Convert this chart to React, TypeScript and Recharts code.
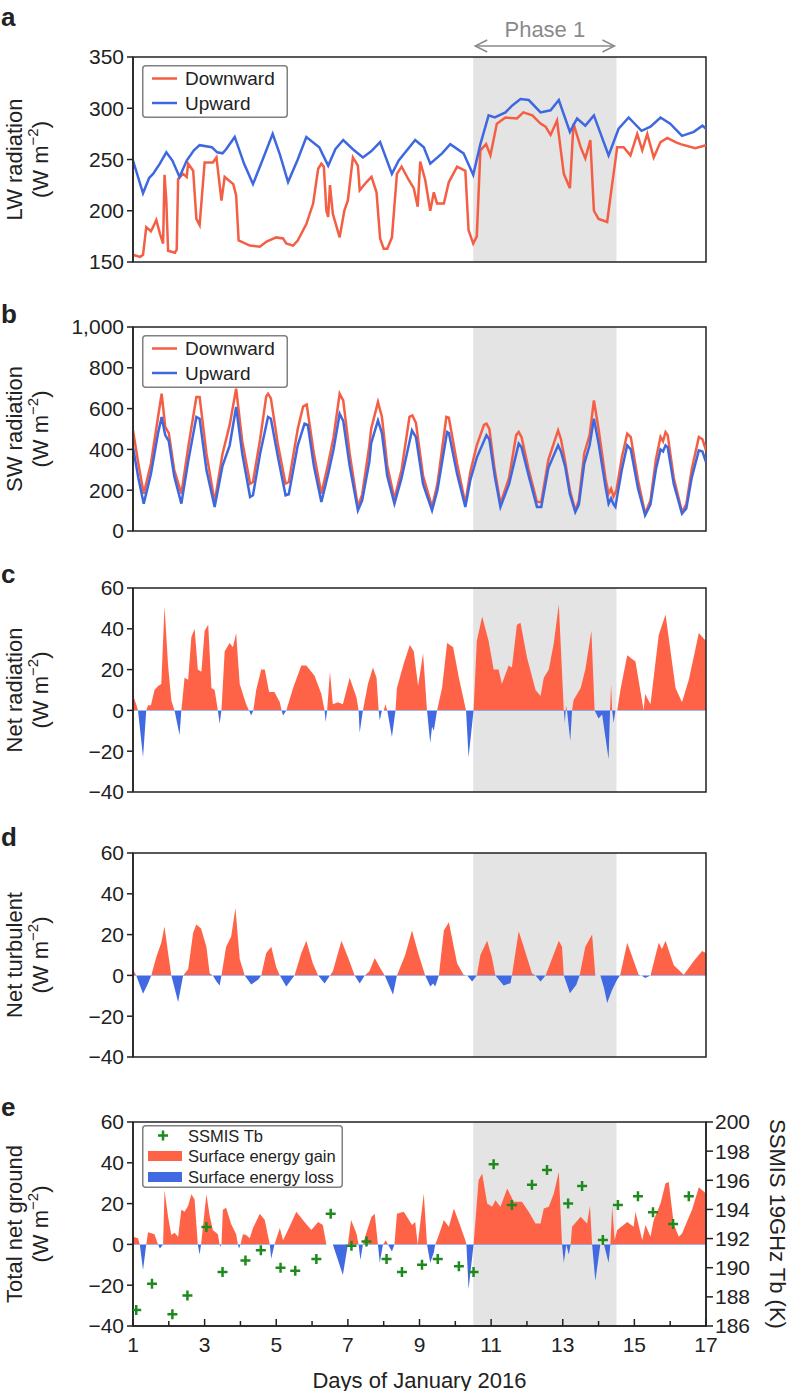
import React from 'react';
import { ComposedChart, Line, Area, Scatter, XAxis, YAxis, ReferenceArea, Legend } from 'recharts';

const FONT = "'Liberation Sans', Arial, Helvetica, sans-serif";
const RED_LINE = '#F45E44';
const BLUE_LINE = '#3E68DF';
const RED_FILL = '#FF6347';
const BLUE_FILL = '#4169E1';
const SHADE = '#E4E4E4';
const GREEN = '#1E8A1E';
const INK = '#222';

const days = [1, 2, 3, 4, 5, 6, 7, 8, 9, 10, 11, 12, 13, 14, 15, 16, 17];
const phase1: [number, number] = [10.5, 14.5];

// a: LW radiation
const lwDown: [number, number][] = [
  [1, 157], [1.2, 155], [1.28, 157], [1.37, 184], [1.5, 180], [1.56, 184], [1.65, 191], [1.75, 178], [1.84, 168],
  [1.88, 235], [1.93, 210], [1.98, 161], [2.17, 159], [2.22, 162], [2.26, 231], [2.4, 236], [2.5, 233], [2.54, 246],
  [2.68, 239], [2.77, 192], [2.86, 186], [3.0, 247], [3.23, 247], [3.33, 252], [3.47, 210], [3.56, 233], [3.8, 226],
  [3.88, 215], [3.95, 171], [4.26, 166], [4.54, 165], [4.73, 170], [5.0, 174], [5.19, 173], [5.28, 168], [5.47, 166],
  [5.6, 171], [5.84, 187], [6.03, 207], [6.17, 241], [6.26, 246], [6.33, 243], [6.4, 200], [6.45, 194], [6.5, 225],
  [6.58, 197], [6.77, 174], [6.9, 200], [7.0, 210], [7.14, 252], [7.28, 244], [7.33, 220], [7.52, 228], [7.66, 233],
  [7.8, 218], [7.9, 173], [8.0, 163], [8.1, 163], [8.23, 174], [8.37, 236], [8.5, 243], [8.7, 230], [8.84, 222],
  [8.95, 204], [9.02, 248], [9.16, 230], [9.3, 200], [9.4, 218], [9.49, 207], [9.68, 207], [9.82, 228], [10.05, 243],
  [10.28, 239], [10.37, 181], [10.5, 168], [10.6, 175], [10.7, 259], [10.86, 265], [10.98, 254], [11.16, 285],
  [11.4, 291], [11.72, 290], [11.9, 296], [12.15, 293], [12.38, 285], [12.52, 282], [12.66, 274], [12.84, 288],
  [13.03, 236], [13.2, 222], [13.3, 285], [13.5, 262], [13.63, 251], [13.77, 269], [13.87, 200], [14.0, 192],
  [14.24, 189], [14.33, 213], [14.52, 262], [14.7, 262], [14.89, 254], [15.08, 275], [15.22, 259], [15.36, 275],
  [15.54, 252], [15.73, 267], [15.92, 271], [16.15, 267], [16.29, 265], [16.7, 261], [17, 264],
];
const lwUp: [number, number][] = [
  [1, 249], [1.28, 217], [1.45, 232], [1.56, 236], [1.75, 246], [1.93, 257], [2.1, 249], [2.3, 233], [2.5, 249],
  [2.7, 259], [2.86, 264], [3.2, 262], [3.35, 257], [3.5, 256], [3.6, 260], [3.84, 272], [4.1, 246], [4.35, 226],
  [4.6, 248], [4.9, 275], [5.1, 255], [5.33, 228], [5.6, 250], [5.84, 272], [6.2, 262], [6.45, 244], [6.65, 260],
  [6.87, 269], [7.14, 260], [7.42, 252], [7.65, 258], [7.9, 267], [8.23, 236], [8.42, 249], [8.88, 269], [9.12, 262],
  [9.3, 246], [9.63, 256], [9.86, 265], [10.23, 256], [10.5, 235], [10.7, 265], [10.93, 293], [11.1, 291], [11.4, 296],
  [11.6, 303], [11.82, 309], [12.05, 308], [12.38, 296], [12.66, 298], [12.89, 308], [13.2, 277], [13.4, 290],
  [13.63, 283], [13.87, 293], [14.28, 254], [14.56, 280], [14.84, 291], [15.2, 278], [15.45, 282], [15.73, 291],
  [16, 285], [16.33, 273], [16.66, 277], [16.9, 283], [17, 280],
];

// b: SW radiation
const swDown: [number, number][] = [
  [1, 493], [1.15, 330], [1.3, 183], [1.5, 330], [1.7, 560], [1.8, 673], [1.9, 510], [2.0, 480], [2.15, 300],
  [2.35, 183], [2.55, 420], [2.77, 657], [2.86, 657], [3.05, 380], [3.28, 142], [3.5, 379], [3.7, 520], [3.88, 698],
  [4.05, 440], [4.27, 232], [4.35, 240], [4.55, 450], [4.72, 660], [4.77, 673], [4.85, 650], [5.05, 420], [5.26, 232],
  [5.35, 240], [5.6, 500], [5.75, 610], [5.85, 620], [6.05, 380], [6.26, 183], [6.45, 330], [6.6, 460], [6.77, 673],
  [6.87, 640], [7.05, 380], [7.28, 118], [7.4, 180], [7.6, 420], [7.65, 500], [7.84, 632], [7.95, 560], [8.1, 320],
  [8.3, 158], [8.5, 300], [8.72, 560], [8.8, 567], [8.9, 530], [9.1, 270], [9.35, 118], [9.5, 230], [9.75, 559],
  [9.82, 555], [10.05, 330], [10.28, 134], [10.42, 290], [10.6, 420], [10.8, 520], [10.87, 526], [10.95, 500],
  [11.1, 300], [11.26, 134], [11.5, 260], [11.7, 470], [11.77, 485], [11.85, 460], [12.05, 300], [12.28, 142],
  [12.4, 142], [12.6, 350], [12.87, 493], [12.95, 450], [13.07, 338], [13.2, 200], [13.35, 101], [13.45, 150],
  [13.6, 380], [13.75, 470], [13.87, 640], [14.0, 500], [14.2, 250], [14.28, 183], [14.35, 207], [14.42, 170],
  [14.5, 200], [14.65, 360], [14.8, 477], [14.9, 460], [15.1, 250], [15.3, 85], [15.45, 150], [15.6, 350],
  [15.73, 461], [15.8, 440], [15.87, 485], [15.93, 470], [16.1, 260], [16.33, 93], [16.45, 130], [16.6, 300],
  [16.8, 461], [16.9, 450], [17, 395],
];
const swUp: [number, number][] = [
  [1, 410], [1.15, 260], [1.3, 134], [1.5, 280], [1.7, 480], [1.8, 559], [1.9, 470], [2.0, 440], [2.15, 270],
  [2.35, 134], [2.55, 350], [2.77, 559], [2.86, 550], [3.05, 300], [3.28, 118], [3.5, 320], [3.7, 420], [3.88, 608],
  [4.05, 380], [4.27, 167], [4.35, 175], [4.55, 380], [4.77, 559], [4.85, 550], [5.05, 360], [5.26, 175], [5.35, 180],
  [5.6, 420], [5.79, 526], [5.88, 520], [6.05, 320], [6.26, 142], [6.45, 280], [6.6, 400], [6.77, 575], [6.87, 540],
  [7.05, 320], [7.28, 101], [7.4, 150], [7.6, 340], [7.65, 430], [7.84, 542], [7.95, 480], [8.1, 270], [8.3, 134],
  [8.5, 260], [8.79, 493], [8.9, 460], [9.1, 230], [9.35, 101], [9.5, 200], [9.77, 485], [9.82, 480], [10.05, 280],
  [10.28, 118], [10.42, 250], [10.6, 360], [10.87, 469], [10.95, 450], [11.1, 270], [11.26, 118], [11.5, 230],
  [11.77, 428], [11.85, 410], [12.05, 270], [12.28, 118], [12.4, 118], [12.6, 310], [12.87, 420], [12.95, 390],
  [13.07, 314], [13.2, 180], [13.35, 93], [13.45, 130], [13.6, 330], [13.75, 420], [13.87, 550], [14.0, 430],
  [14.2, 210], [14.28, 134], [14.35, 160], [14.42, 130], [14.47, 118], [14.5, 150], [14.65, 300], [14.8, 420],
  [14.9, 400], [15.1, 210], [15.3, 77], [15.45, 130], [15.6, 300], [15.73, 400], [15.8, 390], [15.87, 420],
  [15.93, 410], [16.1, 230], [16.33, 85], [16.45, 110], [16.6, 260], [16.8, 395], [16.9, 390], [17, 338],
];

// c: net radiation
const netRad: [number, number][] = [
  [1, 7.4], [1.09, 3], [1.14, 0], [1.28, -23], [1.37, 0], [1.42, 2.5], [1.5, 2.5], [1.6, 10], [1.7, 12], [1.79, 13],
  [1.88, 51], [1.98, 22], [2.07, 5], [2.16, 0], [2.3, -12], [2.35, 0], [2.44, 16], [2.54, 15], [2.63, 36], [2.72, 40],
  [2.81, 20], [2.91, 19], [3.0, 39], [3.1, 42], [3.19, 11], [3.28, 10], [3.37, 0], [3.42, -6.5], [3.47, 0], [3.56, 29],
  [3.7, 33], [3.79, 31], [3.88, 38], [3.98, 13], [4.16, 3], [4.24, 0], [4.3, -2.5], [4.36, 0], [4.44, 10], [4.58, 20],
  [4.68, 20], [4.8, 9], [4.95, 9], [5.1, 4], [5.15, 0], [5.19, -2.5], [5.28, 0], [5.47, 11], [5.7, 22], [5.84, 22],
  [6.07, 17], [6.26, 8], [6.35, 0], [6.38, -5.7], [6.42, 0], [6.5, 19], [6.58, 3], [6.72, 4], [6.86, 3], [7.05, 16],
  [7.24, 6.5], [7.3, 0], [7.33, -11], [7.42, 0], [7.56, 13], [7.7, 21], [7.8, 16], [7.86, 0], [7.89, -5], [7.95, 0],
  [8.0, 0], [8.05, 3], [8.1, 0], [8.23, -13], [8.33, 0], [8.37, 11], [8.56, 23], [8.73, 32], [8.84, 29], [8.96, 12],
  [9.1, 28], [9.21, 0], [9.3, -16], [9.35, -8], [9.4, -10], [9.49, 0], [9.63, 11], [9.77, 33], [9.94, 31], [10.1, 16],
  [10.28, 1.6], [10.3, 0], [10.37, -23], [10.51, 0], [10.6, 34], [10.75, 46], [10.93, 34], [11.07, 20], [11.21, 20],
  [11.3, 13], [11.49, 22], [11.58, 21], [11.72, 42], [11.82, 43], [12.0, 26], [12.24, 10], [12.38, 7], [12.47, 16],
  [12.61, 20], [12.75, 33], [12.89, 52], [13.03, 0], [13.06, -6], [13.09, 2.5], [13.12, 0], [13.21, -15], [13.26, 0],
  [13.3, 5], [13.5, 11], [13.63, 20], [13.8, 39], [13.89, 0], [14.0, -4], [14.1, -2], [14.28, -24], [14.32, 0],
  [14.35, 13], [14.38, 0], [14.42, -6], [14.47, 0], [14.52, 0], [14.61, 10], [14.8, 27], [15.03, 24], [15.26, 0],
  [15.3, 8], [15.45, 3], [15.68, 37], [15.87, 47], [16.15, 11], [16.33, 4], [16.52, 15], [16.8, 38], [17, 34],
];

// d: net turbulent
const netTurb: [number, number][] = [
  [1, 3], [1.09, 0], [1.28, -9], [1.42, -4], [1.51, 0], [1.65, 9], [1.79, 16], [1.88, 24], [1.98, 11], [2.07, 0],
  [2.26, -13], [2.4, 0], [2.54, 3], [2.68, 21], [2.77, 25], [2.9, 23], [3.05, 14], [3.14, 1], [3.23, 0], [3.33, -3],
  [3.42, -5], [3.47, 0], [3.6, 14], [3.74, 19], [3.86, 33], [3.98, 8], [4.12, 0], [4.3, -4.5], [4.5, -2], [4.58, 0],
  [4.72, 11], [4.86, 14], [5.0, 4], [5.1, 0], [5.28, -5.4], [5.51, 0], [5.7, 11], [5.84, 17], [6.02, 6], [6.17, 0],
  [6.35, -4], [6.5, 0], [6.58, 2], [6.82, 17], [7.0, 9], [7.19, 0], [7.33, -4], [7.47, 0], [7.6, 2], [7.75, 8.5],
  [7.89, 4], [8.03, 0], [8.26, -9.5], [8.37, 0], [8.6, 10], [8.79, 22], [8.98, 10], [9.16, 0], [9.3, -5.4],
  [9.38, -4], [9.44, -5.4], [9.54, 0], [9.68, 22], [9.82, 26], [10.05, 6], [10.23, 0.3], [10.33, 0], [10.47, -3],
  [10.6, 0], [10.7, 10], [10.75, 12], [10.89, 17], [11.02, 9], [11.12, 0], [11.35, -5], [11.54, -3.8], [11.58, 0],
  [11.77, 21.6], [11.91, 14], [12.14, 1], [12.24, 0], [12.38, -3], [12.52, 0], [12.89, 17], [12.98, 14], [13.03, 0],
  [13.2, -8.7], [13.38, -4.6], [13.47, 0], [13.63, 14], [13.82, 20], [13.91, 0], [14.05, 0], [14.15, -6],
  [14.24, -13.5], [14.38, -7], [14.52, -2], [14.6, 0], [14.8, 16], [15.12, 0.3], [15.2, 0], [15.3, -1.3], [15.45, 0],
  [15.68, 16], [15.77, 13], [15.87, 17], [16.1, 5], [16.38, 0.3], [16.66, 7], [16.89, 12], [17, 11],
];

// e: total net ground + SSMIS Tb
const netGround: [number, number][] = [
  [1, 3.7], [1.14, 3], [1.19, 0], [1.28, -12.6], [1.37, 0], [1.42, 6], [1.6, 5], [1.7, 0], [1.75, -2], [1.84, 0],
  [1.88, 26.6], [1.98, 13.5], [2.07, 4.6], [2.16, 5.7], [2.26, 3.8], [2.35, 17], [2.44, 16], [2.54, 19], [2.63, 24.6],
  [2.72, 22], [2.81, 0], [2.86, -5], [2.9, 0], [3.05, 24.6], [3.14, 14], [3.23, 7], [3.37, 5], [3.42, 0], [3.44, -1],
  [3.47, 0], [3.51, 17], [3.6, 18], [3.74, 10], [3.88, 5], [3.93, 0], [3.96, -2], [4.0, 0], [4.07, 5], [4.16, 4.6],
  [4.26, 3], [4.35, 8], [4.54, 15], [4.68, 12], [4.82, 0], [4.86, -7], [4.95, 0], [5.1, 8], [5.19, 2], [5.37, 8.6],
  [5.56, 16], [5.79, 11], [5.98, 7], [6.17, 11], [6.3, 9.5], [6.4, 0], [6.58, 0], [6.86, -15], [7.0, 0], [7.09, 12],
  [7.24, 5.4], [7.3, 0], [7.35, -7.7], [7.42, 0], [7.51, 5.4], [7.66, 13.5], [7.75, 15], [7.84, 0], [7.89, -9],
  [7.98, 0], [8.06, 2], [8.12, 0], [8.23, -3.5], [8.3, 0], [8.37, 15], [8.56, 16], [8.65, 13.5], [8.79, 9.5],
  [8.88, 11], [8.95, 0], [9.12, 25], [9.21, 0], [9.3, -9], [9.4, -4], [9.44, 0], [9.54, 4.6], [9.68, 12], [9.82, 8.6],
  [9.96, 17.6], [10.1, 11], [10.28, 2], [10.31, 0], [10.37, -22], [10.51, 0], [10.65, 31.5], [10.75, 34.8],
  [10.89, 20], [11.03, 18.4], [11.12, 21.7], [11.26, 18.4], [11.45, 27.4], [11.63, 20.9], [11.86, 20.9], [12.05, 16],
  [12.24, 10.3], [12.38, 10.3], [12.47, 17.6], [12.61, 18.4], [12.75, 25], [12.89, 35.6], [12.98, 0], [13.03, -9],
  [13.1, 0], [13.17, -5], [13.22, 0], [13.26, 8.6], [13.5, 13.5], [13.68, 10.3], [13.76, 19], [13.82, 0],
  [13.91, -18], [14.05, 0], [14.15, 0], [14.28, -9], [14.33, 0], [14.38, 18.4], [14.45, 2], [14.52, 7], [14.8, 11],
  [14.98, 8.6], [15.03, 16], [15.22, 2], [15.31, 9.5], [15.45, 3.8], [15.54, 12], [15.73, 20], [15.87, 30],
  [15.96, 30.6], [16.1, 10], [16.24, 3.8], [16.33, 5.4], [16.61, 17], [16.8, 28], [17, 25],
];
const ssmisTb: [number, number][] = [
  [1.09, 187.1], [1.53, 188.9], [2.1, 186.8], [2.52, 188.1], [3.05, 192.8], [3.5, 189.7], [4.14, 190.5],
  [4.57, 191.2], [5.12, 190.0], [5.53, 189.8], [6.12, 190.6], [6.52, 193.7], [7.1, 191.5], [7.52, 191.8],
  [8.08, 190.6], [8.51, 189.7], [9.07, 190.2], [9.51, 190.6], [10.1, 190.1], [10.51, 189.7], [11.07, 197.1],
  [11.58, 194.3], [12.14, 195.7], [12.56, 196.7], [13.15, 194.4], [13.54, 195.6], [14.12, 191.9], [14.54, 194.3],
  [15.1, 194.9], [15.52, 193.8], [16.08, 193.0], [16.52, 194.9],
];

const lwTicks = [150, 200, 250, 300, 350];
const swTicks = [0, 200, 400, 600, 800, 1000];
const fluxTicks = [-40, -20, 0, 20, 40, 60];
const tbTicks = [186, 188, 190, 192, 194, 196, 198, 200];

const pts = (a: [number, number][]) => a.map(([day, v]) => ({ day, v }));
const fmt = (v: number) => (v < 0 ? '\u2212' + Math.abs(v) : v.toLocaleString('en-US'));

const W = 788;
const PLOT_H = 204;
const TOP = 20; // room above each plot for the top tick label
const axisStyle = { stroke: INK, strokeWidth: 1.5 };
const tickStyle = { fontSize: 21, fill: INK, fontFamily: FONT };

function DayTick(props: any) {
  const { x, y, payload, showLabels } = props;
  const major = payload.value % 2 === 1;
  return (
    <g>
      <line x1={x} x2={x} y1={y} y2={y - (major ? 7 : 5)} stroke={INK} strokeWidth={1.5} />
      {showLabels && major && (
        <text x={x} y={y + 18} textAnchor="middle" dominantBaseline="central" fontSize={21} fill={INK} fontFamily={FONT}>
          {payload.value}
        </text>
      )}
    </g>
  );
}

function LeftTitle(props: any) {
  const { viewBox, title } = props;
  const cy = viewBox.y + viewBox.height / 2;
  return (
    <g fontFamily={FONT} fontSize={22} fill={INK}>
      <text transform={`translate(14, ${cy}) rotate(-90)`} textAnchor="middle" dominantBaseline="central">{title}</text>
      <text transform={`translate(40, ${cy}) rotate(-90)`} textAnchor="middle" dominantBaseline="central">
        (W m<tspan dy={-8} fontSize={15}>{'\u22122'}</tspan><tspan dy={8}>)</tspan>
      </text>
    </g>
  );
}

function PhaseLabel(props: any) {
  const { viewBox } = props;
  const x0 = viewBox.x + 2;
  const x1 = viewBox.x + viewBox.width - 2;
  const ay = viewBox.y - 11;
  return (
    <g>
      <text x={(x0 + x1) / 2} y={viewBox.y - 28} textAnchor="middle" dominantBaseline="central" fontSize={22} fill="#8A8A8A" fontFamily={FONT}>
        Phase 1
      </text>
      <line x1={x0} x2={x1} y1={ay} y2={ay} stroke="#8A8A8A" strokeWidth={1.5} />
      <polyline points={`${x0 + 12},${ay - 6} ${x0},${ay} ${x0 + 12},${ay + 6}`} fill="none" stroke="#8A8A8A" strokeWidth={1.5} />
      <polyline points={`${x1 - 12},${ay - 6} ${x1},${ay} ${x1 - 12},${ay + 6}`} fill="none" stroke="#8A8A8A" strokeWidth={1.5} />
    </g>
  );
}

function LineLegend() {
  return (
    <svg width={146} height={53} style={{ display: 'block' }}>
      <rect x={0.75} y={0.75} width={144.5} height={51.5} rx={3} fill="#fff" stroke="#808080" strokeWidth={1.5} />
      <line x1={10} x2={35} y1={13.5} y2={13.5} stroke={RED_LINE} strokeWidth={2.5} />
      <text x={43} y={13.5} dominantBaseline="central" fontSize={19} fill={INK} fontFamily={FONT}>Downward</text>
      <line x1={10} x2={35} y1={38} y2={38} stroke={BLUE_LINE} strokeWidth={2.5} />
      <text x={43} y={38} dominantBaseline="central" fontSize={19} fill={INK} fontFamily={FONT}>Upward</text>
    </svg>
  );
}

function GroundLegend() {
  return (
    <svg width={201} height={63} style={{ display: 'block' }}>
      <rect x={0.75} y={0.75} width={199.5} height={61.5} rx={3} fill="#fff" stroke="#808080" strokeWidth={1.5} />
      <path d="M16,10.5h10M21,5.5v10" stroke={GREEN} strokeWidth={2.5} />
      <text x={46} y={10.5} dominantBaseline="central" fontSize={16.5} fill={INK} fontFamily={FONT}>SSMIS Tb</text>
      <rect x={6} y={26} width={34} height={10} fill={RED_FILL} />
      <text x={46} y={31} dominantBaseline="central" fontSize={16.5} fill={INK} fontFamily={FONT}>Surface energy gain</text>
      <rect x={6} y={47} width={34} height={10} fill={BLUE_FILL} />
      <text x={46} y={52} dominantBaseline="central" fontSize={16.5} fill={INK} fontFamily={FONT}>Surface energy loss</text>
    </svg>
  );
}

function PlusShape(props: any) {
  const { cx, cy } = props;
  return <path d={`M${cx - 5},${cy}h10M${cx},${cy - 5}v10`} stroke={GREEN} strokeWidth={2.5} fill="none" />;
}

function xAxis(showLabels: boolean, height: number, label?: any) {
  return (
    <XAxis
      dataKey="day"
      type="number"
      domain={[1, 17]}
      ticks={days}
      interval={0}
      allowDataOverflow
      height={height}
      tickSize={0}
      tickMargin={0}
      tickLine={false}
      axisLine={axisStyle}
      tick={(p: any) => <DayTick {...p} showLabels={showLabels} />}
      label={label}
    />
  );
}

function leftAxis(domain: number[], ticks: number[], title: string) {
  return (
    <YAxis
      type="number"
      domain={domain}
      ticks={ticks}
      interval={0}
      allowDataOverflow
      width={133}
      tickSize={6}
      tickMargin={3}
      tick={tickStyle}
      tickFormatter={fmt}
      axisLine={axisStyle}
      tickLine={axisStyle}
      label={{ content: (p: any) => <LeftTitle {...p} title={title} /> }}
    />
  );
}

function shade(withPhase: boolean, domain: number[]) {
  return (
    <ReferenceArea
      x1={phase1[0]}
      x2={phase1[1]}
      y1={domain[0]}
      y2={domain[1]}
      fill={SHADE}
      fillOpacity={1}
      stroke="none"
      ifOverflow="extendDomain"
      label={withPhase ? { content: (p: any) => <PhaseLabel {...p} /> } : undefined}
    />
  );
}

function frame(domain: number[]) {
  return <ReferenceArea x1={1} x2={17} y1={domain[0]} y2={domain[1]} fill="none" fillOpacity={0} stroke={INK} strokeWidth={1.5} />;
}

function splitGradient(id: string, top: number) {
  return (
    <defs>
      <linearGradient id={id} x1={0} y1={top} x2={0} y2={top + PLOT_H} gradientUnits="userSpaceOnUse">
        <stop offset={0} stopColor={RED_FILL} />
        <stop offset={0.6} stopColor={RED_FILL} />
        <stop offset={0.6} stopColor={BLUE_FILL} />
        <stop offset={1} stopColor={BLUE_FILL} />
      </linearGradient>
    </defs>
  );
}

function FluxPanel({ plotTop, data, title, gid }: { plotTop: number; data: [number, number][]; title: string; gid: string }) {
  const dom = [-40, 60];
  return (
    <div style={{ position: 'absolute', left: 0, top: plotTop - TOP }}>
      <ComposedChart width={W} height={TOP + PLOT_H + 10} margin={{ top: TOP, right: 82, bottom: 10, left: 0 }}>
        {splitGradient(gid, TOP)}
        {shade(false, dom)}
        {xAxis(false, 0)}
        {leftAxis(dom, fluxTicks, title)}
        <Area data={pts(data)} dataKey="v" type="linear" baseValue={0} stroke="none" fill={`url(#${gid})`} fillOpacity={1} dot={false} activeDot={false} isAnimationActive={false} />
        {frame(dom)}
      </ComposedChart>
    </div>
  );
}

export default function App() {
  const lwDom = [150, 350];
  const swDom = [0, 1000];
  const flDom = [-40, 60];
  const letters: [string, number][] = [['a', 28], ['b', 325], ['c', 585], ['d', 848], ['e', 1118]];
  const bTop = 327;
  const eTop = 1122;
  return (
    <div style={{ position: 'absolute', left: 0, top: 0, width: W, height: 1391, background: '#fff', fontFamily: FONT, color: INK }}>
      {letters.map(([t, y]) => (
        <div key={t} style={{ position: 'absolute', left: 1, top: y - 24, fontSize: 26, fontWeight: 'bold', lineHeight: '26px' }}>{t}</div>
      ))}

      {/* a */}
      <div style={{ position: 'absolute', left: 0, top: 0 }}>
        <ComposedChart width={W} height={57 + 205 + 10} margin={{ top: 57, right: 82, bottom: 10, left: 0 }}>
          {shade(true, lwDom)}
          {xAxis(false, 0)}
          {leftAxis(lwDom, lwTicks, 'LW radiation')}
          <Line data={pts(lwDown)} dataKey="v" type="linear" stroke={RED_LINE} strokeWidth={2.5} dot={false} activeDot={false} isAnimationActive={false} />
          <Line data={pts(lwUp)} dataKey="v" type="linear" stroke={BLUE_LINE} strokeWidth={2.5} dot={false} activeDot={false} isAnimationActive={false} />
          {frame(lwDom)}
          <Legend layout="horizontal" verticalAlign="middle" align="center" content={() => <LineLegend />} wrapperStyle={{ left: 142, top: 65, width: 146, height: 53 }} />
        </ComposedChart>
      </div>

      {/* b */}
      <div style={{ position: 'absolute', left: 0, top: bTop - TOP }}>
        <ComposedChart width={W} height={TOP + PLOT_H + 10} margin={{ top: TOP, right: 82, bottom: 10, left: 0 }}>
          {shade(false, swDom)}
          {xAxis(false, 0)}
          {leftAxis(swDom, swTicks, 'SW radiation')}
          <Line data={pts(swDown)} dataKey="v" type="linear" stroke={RED_LINE} strokeWidth={2.5} dot={false} activeDot={false} isAnimationActive={false} />
          <Line data={pts(swUp)} dataKey="v" type="linear" stroke={BLUE_LINE} strokeWidth={2.5} dot={false} activeDot={false} isAnimationActive={false} />
          {frame(swDom)}
          <Legend layout="horizontal" verticalAlign="middle" align="center" content={() => <LineLegend />} wrapperStyle={{ left: 142, top: 335 - bTop + TOP, width: 146, height: 53 }} />
        </ComposedChart>
      </div>

      <FluxPanel plotTop={588} data={netRad} title="Net radiation" gid="gradC" />
      <FluxPanel plotTop={853} data={netTurb} title="Net turbulent" gid="gradD" />

      {/* e */}
      <div style={{ position: 'absolute', left: 0, top: eTop - TOP }}>
        <ComposedChart width={W} height={TOP + PLOT_H + 65} margin={{ top: TOP, right: 0, bottom: 0, left: 0 }}>
          {splitGradient('gradE', TOP)}
          {shade(false, flDom)}
          {xAxis(true, 65, {
            content: (p: any) => (
              <text x={p.viewBox.x + p.viewBox.width / 2} y={p.viewBox.y + 54} textAnchor="middle" dominantBaseline="central" fontSize={22} fill={INK} fontFamily={FONT}>
                Days of January 2016
              </text>
            ),
          })}
          {leftAxis(flDom, fluxTicks, 'Total net ground')}
          <YAxis
            yAxisId="tb"
            orientation="right"
            type="number"
            domain={[186, 200]}
            ticks={tbTicks}
            interval={0}
            allowDataOverflow
            width={82}
            tickSize={7}
            tickMargin={2}
            tick={tickStyle}
            axisLine={axisStyle}
            tickLine={axisStyle}
            label={{
              content: (p: any) => (
                <text transform={`translate(777, ${p.viewBox.y + p.viewBox.height / 2}) rotate(90)`} textAnchor="middle" dominantBaseline="central" fontSize={22} fill={INK} fontFamily={FONT}>
                  SSMIS 19GHz Tb (K)
                </text>
              ),
            }}
          />
          <Area data={pts(netGround)} dataKey="v" type="linear" baseValue={0} stroke="none" fill="url(#gradE)" fillOpacity={1} dot={false} activeDot={false} isAnimationActive={false} />
          <Scatter data={pts(ssmisTb)} dataKey="v" yAxisId="tb" shape={PlusShape} isAnimationActive={false} />
          {frame(flDom)}
          <Legend layout="horizontal" verticalAlign="middle" align="center" content={() => <GroundLegend />} wrapperStyle={{ left: 142, top: 1125 - eTop + TOP, width: 201, height: 63 }} />
        </ComposedChart>
      </div>
    </div>
  );
}
